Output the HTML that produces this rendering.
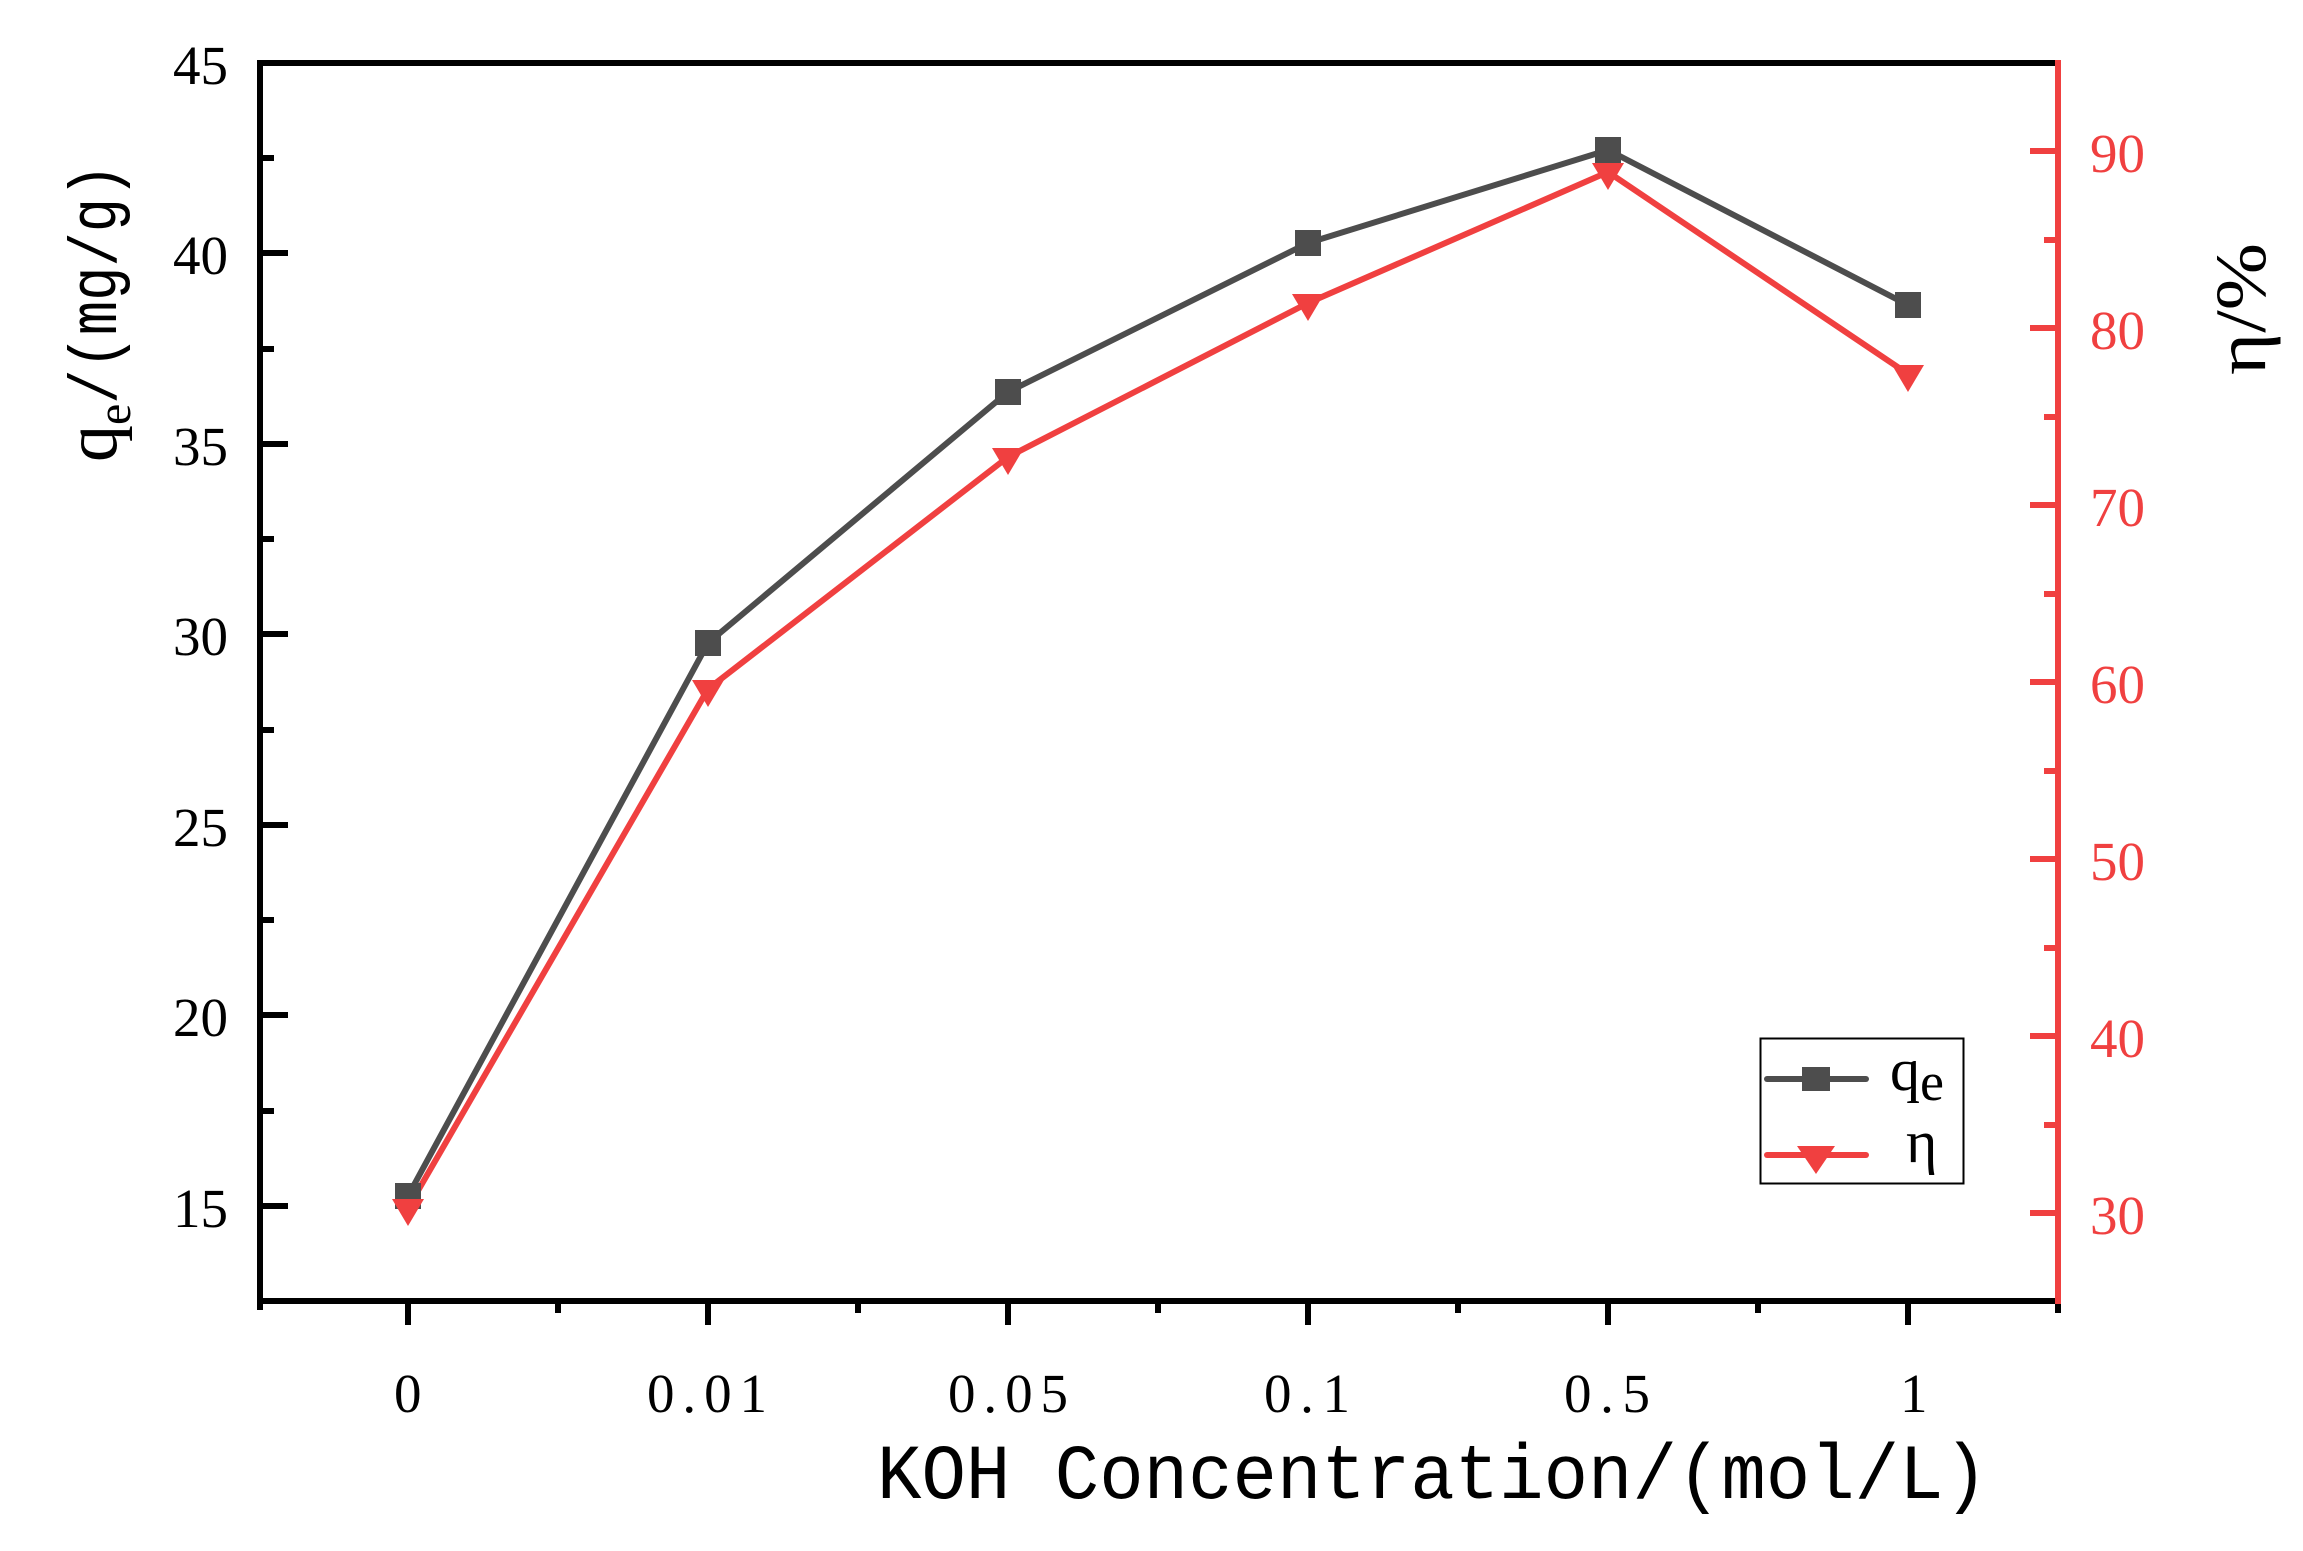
<!DOCTYPE html>
<html><head><meta charset="utf-8"><style>html,body{margin:0;padding:0;background:#fff}</style></head>
<body>
<svg width="2303" height="1546" viewBox="0 0 2303 1546" xmlns="http://www.w3.org/2000/svg">
<rect width="2303" height="1546" fill="#fff"/>
<!-- data lines -->
<polyline fill="none" stroke="#4d4d4d" stroke-width="6" stroke-linejoin="round" points="408,1196 708,643 1008,392 1308,243 1608,150 1908,305"/>
<polyline fill="none" stroke="#f04040" stroke-width="6" stroke-linejoin="round" points="408,1208 708,689 1008,457 1308,303 1608,172 1908,374"/>
<g fill="#4d4d4d">
<rect x="395" y="1183" width="26" height="26"/><rect x="695" y="630" width="26" height="26"/><rect x="995" y="379" width="26" height="26"/><rect x="1295" y="230" width="26" height="26"/><rect x="1595" y="137" width="26" height="26"/><rect x="1895" y="292" width="26" height="26"/>
</g>
<g fill="#f04040">
<polygon points="392,1199 424,1199 408,1226"/><polygon points="692,680 724,680 708,707"/><polygon points="992,448 1024,448 1008,475"/><polygon points="1292,294 1324,294 1308,321"/><polygon points="1592,163 1624,163 1608,190"/><polygon points="1892,365 1924,365 1908,392"/>
</g>
<!-- axes -->
<g stroke="#000" stroke-width="6">
<line x1="260" y1="63" x2="2058" y2="63"/>
<line x1="260" y1="60" x2="260" y2="1310"/>
<line x1="257" y1="1301" x2="2058" y2="1301"/>
</g>
<g stroke="#000" stroke-width="6">
<line x1="260" y1="253" x2="288" y2="253"/><line x1="260" y1="444" x2="288" y2="444"/><line x1="260" y1="634" x2="288" y2="634"/><line x1="260" y1="825" x2="288" y2="825"/><line x1="260" y1="1015" x2="288" y2="1015"/><line x1="260" y1="1206" x2="288" y2="1206"/>
<line x1="260" y1="158" x2="274" y2="158"/><line x1="260" y1="349" x2="274" y2="349"/><line x1="260" y1="539" x2="274" y2="539"/><line x1="260" y1="730" x2="274" y2="730"/><line x1="260" y1="920" x2="274" y2="920"/><line x1="260" y1="1111" x2="274" y2="1111"/>
<line x1="408" y1="1301" x2="408" y2="1325"/><line x1="708" y1="1301" x2="708" y2="1325"/><line x1="1008" y1="1301" x2="1008" y2="1325"/><line x1="1308" y1="1301" x2="1308" y2="1325"/><line x1="1608" y1="1301" x2="1608" y2="1325"/><line x1="1908" y1="1301" x2="1908" y2="1325"/>
<line x1="558" y1="1301" x2="558" y2="1313"/><line x1="858" y1="1301" x2="858" y2="1313"/><line x1="1158" y1="1301" x2="1158" y2="1313"/><line x1="1458" y1="1301" x2="1458" y2="1313"/><line x1="1758" y1="1301" x2="1758" y2="1313"/><line x1="2058" y1="1301" x2="2058" y2="1313"/>
</g>
<g stroke="#f04040" stroke-width="6">
<line x1="2058" y1="60" x2="2058" y2="1304"/>
<line x1="2030" y1="151" x2="2058" y2="151"/><line x1="2030" y1="328" x2="2058" y2="328"/><line x1="2030" y1="505" x2="2058" y2="505"/><line x1="2030" y1="682" x2="2058" y2="682"/><line x1="2030" y1="859" x2="2058" y2="859"/><line x1="2030" y1="1036" x2="2058" y2="1036"/><line x1="2030" y1="1213" x2="2058" y2="1213"/>
<line x1="2044" y1="240" x2="2058" y2="240"/><line x1="2044" y1="417" x2="2058" y2="417"/><line x1="2044" y1="594" x2="2058" y2="594"/><line x1="2044" y1="771" x2="2058" y2="771"/><line x1="2044" y1="948" x2="2058" y2="948"/><line x1="2044" y1="1125" x2="2058" y2="1125"/>
</g>
<!-- left tick labels -->
<g font-family="Liberation Serif, serif" font-size="55" fill="#000" text-anchor="end">
<text x="228" y="84">45</text><text x="228" y="274">40</text><text x="228" y="465">35</text><text x="228" y="655">30</text><text x="228" y="846">25</text><text x="228" y="1036">20</text><text x="228" y="1227">15</text>
</g>
<g font-family="Liberation Serif, serif" font-size="55" fill="#f04040" text-anchor="start">
<text x="2090" y="172">90</text><text x="2090" y="349">80</text><text x="2090" y="526">70</text><text x="2090" y="703">60</text><text x="2090" y="880">50</text><text x="2090" y="1057">40</text><text x="2090" y="1234">30</text>
</g>
<g font-family="Liberation Serif, serif" font-size="55" fill="#000">
<text x="394" y="1412">0</text>
<text x="647" y="1412" textLength="120" lengthAdjust="spacing">0.01</text>
<text x="948" y="1412" textLength="120" lengthAdjust="spacing">0.05</text>
<text x="1264" y="1412" textLength="86" lengthAdjust="spacing">0.1</text>
<text x="1564" y="1412" textLength="86" lengthAdjust="spacing">0.5</text>
<text x="1900" y="1412">1</text>
</g>
<!-- axis titles -->
<text x="877" y="1498" font-family="Liberation Mono, monospace" font-size="78" textLength="1111" lengthAdjust="spacingAndGlyphs" fill="#000">KOH Concentration/(mol/L)</text>
<g transform="translate(116,462) rotate(-90)">
<text x="0" y="0" font-family="Liberation Serif, serif" font-size="74" fill="#000">q<tspan font-size="48" dy="14">e</tspan><tspan dy="-14" font-family="Liberation Mono, monospace" font-size="68" textLength="240" lengthAdjust="spacingAndGlyphs">/(mg/g)</tspan></text>
</g>
<g transform="translate(2265,375) rotate(-90)">
<text x="0" y="0" font-family="Liberation Serif, serif" font-size="72" fill="#000" textLength="132" lengthAdjust="spacingAndGlyphs">η/%</text>
</g>
<!-- legend -->
<rect x="1760.5" y="1038.5" width="203" height="145" fill="#fff" stroke="#000" stroke-width="2"/>
<line x1="1767" y1="1079" x2="1866" y2="1079" stroke="#4d4d4d" stroke-width="6" stroke-linecap="round"/>
<rect x="1802" y="1067" width="28" height="24" fill="#4d4d4d"/>
<line x1="1767" y1="1155" x2="1866" y2="1155" stroke="#f04040" stroke-width="6" stroke-linecap="round"/>
<polygon points="1797,1146 1835,1146 1816,1174" fill="#f04040"/>
<text x="1890" y="1090" font-family="Liberation Serif, serif" font-size="60" fill="#000">q<tspan font-size="54" dy="10">e</tspan></text>
<text x="1906" y="1162" font-family="Liberation Serif, serif" font-size="60" fill="#000">η</text>
</svg>
</body></html>
